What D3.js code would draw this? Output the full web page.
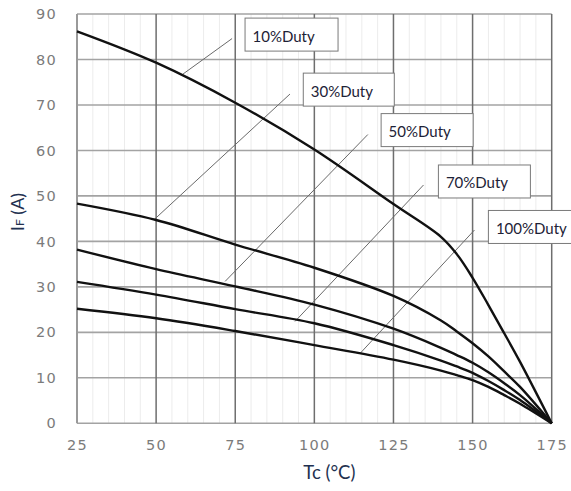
<!DOCTYPE html>
<html>
<head>
<meta charset="utf-8">
<script src="https://cdn.jsdelivr.net/npm/d3@7"></script>
<style>
  body { margin: 0; background: #fff; }
  svg { display: block; }
</style>
</head>
<body>
<div class="chart"></div>
<script>
/* IF vs Tc derating curves for several duty cycles. */

var temps = [25, 50, 75, 100, 125, 140, 145, 150, 155, 160, 165, 175];

var duty10  = [86.2, 79.3, 70.5, 60.2, 48.2, 41, 37.2, 32, 26, 19.8, 13.5, 0];
var duty30  = [48.3, 44.7, 39.3, 34.2, 28, 22.6, 20.2, 17.6, 14.7, 11.4, 8, 0];
var duty50  = [38.2, 33.9, 30.1, 26.1, 20.8, 16.6, 15, 13.3, 11.2, 8.8, 6.2, 0];
var duty70  = [31.1, 28.3, 25.1, 22, 17.2, 13.8, 12.5, 11.1, 9.3, 7.3, 5.1, 0];
var duty100 = [25.2, 23.1, 20.3, 17.2, 14, 11.6, 10.6, 9.5, 8, 6.2, 4.3, 0];

var series = [duty10, duty30, duty50, duty70, duty100];

var labels = ["10%Duty", "30%Duty", "50%Duty", "70%Duty", "100%Duty"];
// leader line: start on curve (T, IF) -> end (T, IF); box top-left (T, IF)
var leaderFrom = [[58.5, 76.8], [49.4, 44.8], [71.8, 31.2], [93.9, 22.4], [114.5, 15.4]];
var leaderTo   = [[74, 84.6], [92.3, 72.4], [116.9, 63.5], [134.5, 52.4], [150.6, 42.5]];
var boxAt      = [[78.1, 89.1], [96.5, 77.0], [121.1, 68.1], [139.2, 56.8], [155.0, 46.8]];

var xTicks = [25, 50, 75, 100, 125, 150, 175];
var yTicks = [0, 10, 20, 30, 40, 50, 60, 70, 80, 90];

drawChart();

function drawChart() {

  var W = 571, H = 491;
  var margin = {top: 14, right: 19.3, bottom: 67.7, left: 77};
  var width = W - margin.left - margin.right,
      height = H - margin.top - margin.bottom;

  var svg = d3.select(".chart")
    .append("svg")
    .attr("width", W)
    .attr("height", H);

  var g = svg.append("g")
    .attr("transform", "translate(" + margin.left + "," + margin.top + ")");

  var x = d3.scaleLinear().domain([25, 175]).range([0, width]);
  var y = d3.scaleLinear().domain([0, 90]).range([height, 0]);

  // minor vertical grid every 5
  g.append("g")
    .selectAll("line")
    .data(d3.range(25, 176, 5).filter(function (d) { return d % 25 !== 0; }))
    .enter().append("line")
    .attr("x1", x).attr("x2", x)
    .attr("y1", 0).attr("y2", height)
    .style("stroke", "#ececec")
    .style("stroke-width", 1);

  // horizontal grid
  g.append("g")
    .selectAll("line")
    .data(yTicks)
    .enter().append("line")
    .attr("x1", 0).attr("x2", width)
    .attr("y1", y).attr("y2", y)
    .style("stroke", "#a3a3a3")
    .style("stroke-width", 1.6);

  // major vertical grid
  g.append("g")
    .selectAll("line")
    .data(xTicks)
    .enter().append("line")
    .attr("x1", x).attr("x2", x)
    .attr("y1", 0).attr("y2", height)
    .style("stroke", function (d) { return d === 25 ? "#9a9a9a" : "#6e6e6e"; })
    .style("stroke-width", function (d) { return d === 25 ? 2 : 1.5; });

  // axis tick labels
  var xAxis = g.append("g")
    .attr("transform", "translate(0," + height + ")")
    .call(d3.axisBottom(x).tickValues(xTicks).tickSize(0).tickPadding(16));
  var yAxis = g.append("g")
    .call(d3.axisLeft(y).tickValues(yTicks).tickSize(0).tickPadding(20));

  [xAxis, yAxis].forEach(function (a) {
    a.select(".domain").remove();
    a.selectAll("text")
      .style("font-family", "'DejaVu Sans', sans-serif")
      .style("font-size", "14.5px")
      .style("letter-spacing", "1.3px")
      .style("fill", "#7b7b7b");
  });

  // leader lines
  g.append("g")
    .selectAll("line")
    .data(labels)
    .enter().append("line")
    .attr("x1", function (d, i) { return x(leaderFrom[i][0]); })
    .attr("y1", function (d, i) { return y(leaderFrom[i][1]); })
    .attr("x2", function (d, i) { return x(leaderTo[i][0]); })
    .attr("y2", function (d, i) { return y(leaderTo[i][1]); })
    .style("stroke", "#6a6a6a")
    .style("stroke-width", 1);

  // curves
  var line = d3.line()
    .x(function (d, i) { return x(temps[i]); })
    .y(function (d) { return y(d); })
    .curve(d3.curveCatmullRom.alpha(0.5));

  g.append("g")
    .selectAll("path")
    .data(series)
    .enter().append("path")
    .attr("d", line)
    .style("fill", "none")
    .style("stroke", "#111")
    .style("stroke-width", 2.4);

  // label boxes
  var boxW = [93, 91, 92, 92, 90];
  var lab = g.append("g")
    .selectAll("g")
    .data(labels)
    .enter().append("g")
    .attr("transform", function (d, i) {
      return "translate(" + x(boxAt[i][0]) + "," + y(boxAt[i][1]) + ")";
    });

  lab.append("rect")
    .attr("width", function (d, i) { return boxW[i]; })
    .attr("height", 33)
    .style("fill", "#fff")
    .style("stroke", "#7a7a7a")
    .style("stroke-width", 1);

  lab.append("text")
    .attr("x", 7.5)
    .attr("y", 23.5)
    .text(function (d) { return d; })
    .style("font-family", "Lato, 'Open Sans', sans-serif")
    .style("font-size", "15px")
    .style("fill", "#1d2236");

  // axis titles
  svg.append("text")
    .attr("x", margin.left + x(100) + 15)
    .attr("y", 479)
    .attr("text-anchor", "middle")
    .text("Tc (°C)")
    .style("font-family", "Lato, sans-serif")
    .style("font-size", "18.5px")
    .style("fill", "#22304f");

  var yt = svg.append("text")
    .attr("transform", "translate(24,212) rotate(-90)")
    .attr("text-anchor", "middle")
    .style("font-family", "Lato, sans-serif")
    .style("font-size", "18px")
    .style("fill", "#22304f");
  yt.append("tspan").text("I");
  yt.append("tspan").text("F").style("font-size", "12px");
  yt.append("tspan").text(" (A)");
}
</script>
</body>
</html>
